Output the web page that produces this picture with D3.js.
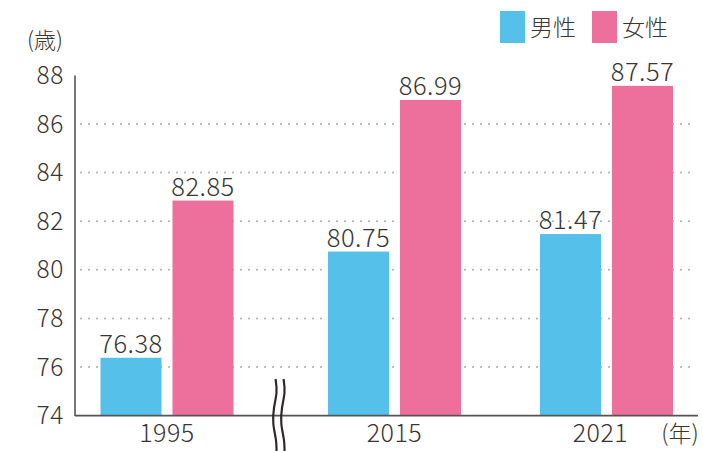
<!DOCTYPE html>
<html><head><meta charset="utf-8">
<script src="https://cdn.jsdelivr.net/npm/d3@7"></script>
<style>body{margin:0;background:#fff}svg{display:block}text{font-family:"Noto Sans CJK JP","Noto Sans",sans-serif;font-weight:300;fill:#3a3636}</style>
</head><body><svg id="c" width="703" height="451"></svg>
<script>
const years = ["1995","2015","2021"];
const male = [76.38, 80.75, 81.47];
const female = [82.85, 86.99, 87.57];
const yTicks = [74,76,78,80,82,84,86,88];
const seriesNames = ["男性","女性"];
const colors = ["#55c0ea","#ec6f9c"];

const svg = d3.select("#c");
const x0 = 75, xEnd = 698, yBase = 415.6, yTop = 75.4;
const y = d3.scaleLinear().domain([74,88]).range([yBase,yTop]);
// group centers (axis is broken between 1995 and 2015)
const xc = d3.scaleLinear().domain([0,1,2]).range([167,394.5,606.5]);
const barW = 61, gap = 11;

// gridlines
svg.append("g").selectAll("line").data(yTicks.filter(t=>t>74 && t<88)).join("line")
  .attr("x1",x0+6).attr("x2",695).attr("y1",d=>y(d)).attr("y2",d=>y(d))
  .attr("stroke","#aaaaaa").attr("stroke-width",2).attr("stroke-dasharray","0 8").attr("stroke-linecap","round");

// y axis
const yAxis = d3.axisLeft(y).tickValues(yTicks).tickSize(0).tickPadding(11);
const gy = svg.append("g").attr("transform",`translate(${x0},0)`).call(yAxis);
gy.select(".domain").remove();
gy.attr("font-family",null).attr("font-size",null);
gy.selectAll("text").style("font-size","24.5px").style("letter-spacing","0.6px").attr("dy","0.33em").style("fill","#3a3636");

// bars
const data = years.map((yr,i)=>({yr,i,vals:[male[i],female[i]]}));
const g = svg.append("g");
data.forEach(d=>{
  d.vals.forEach((v,k)=>{
    const xl = k===0 ? xc(d.i)-gap/2-barW : xc(d.i)+gap/2;
    g.append("rect").attr("x",xl).attr("y",y(v)).attr("width",barW).attr("height",yBase-y(v)).attr("fill",colors[k]);
    g.append("text").attr("x",xl+barW/2).attr("y",y(v)-5).attr("text-anchor","middle")
      .style("font-size","25.5px").style("letter-spacing","0.5px").text(v.toFixed(2));
  });
});

// axis lines
svg.append("line").attr("x1",x0).attr("x2",x0).attr("y1",yTop).attr("y2",yBase+0.5).attr("stroke","#555").attr("stroke-width",1.6);
svg.append("line").attr("x1",x0).attr("x2",xEnd).attr("y1",yBase).attr("y2",yBase).attr("stroke","#555").attr("stroke-width",1.6);

// x labels
svg.append("g").selectAll("text").data(years).join("text")
  .attr("x",(d,i)=>xc(i)-(i===2?6:0)).attr("y",442).attr("text-anchor","middle")
  .style("font-size","25px").style("letter-spacing","0.5px").text(d=>d);

// axis break marks
const wave = d3.line().curve(d3.curveBasis);
[275.5,283.5].forEach(bx=>{
  svg.append("path").attr("d",wave([[bx,379],[bx+2,392],[bx-2,408],[bx-3,424],[bx+1,440],[bx+1,451]]))
    .attr("fill","none").attr("stroke","#2f2a2a").attr("stroke-width",2.2);
});

// unit labels
svg.append("text").attr("x",45).attr("y",48).attr("text-anchor","middle").style("font-size","22px").text("(歳)");
svg.append("text").attr("x",680).attr("y",442).attr("text-anchor","middle").style("font-size","23px").text("(年)");

// legend
const lx = [500,592];
seriesNames.forEach((n,k)=>{
  svg.append("rect").attr("x",lx[k]).attr("y",11).attr("width",25).attr("height",32).attr("fill",colors[k]);
  svg.append("text").attr("x",lx[k]+30).attr("y",36).style("font-size","23px").text(n);
});
</script></body></html>
